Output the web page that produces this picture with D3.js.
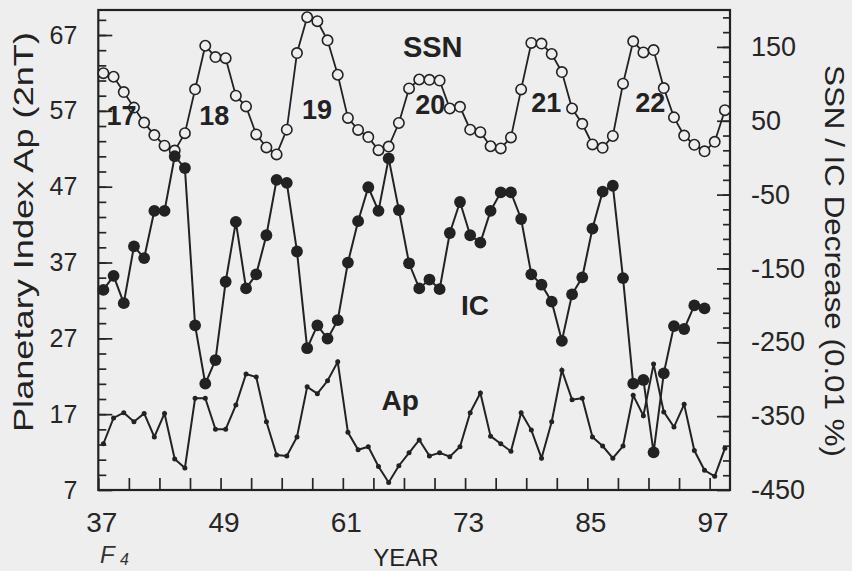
<!DOCTYPE html>
<html>
<head>
<meta charset="utf-8">
<script src="https://cdn.jsdelivr.net/npm/d3@7"></script>
<style>
  html, body { margin: 0; padding: 0; background: #eeeeee; }
  svg { display: block; font-family: 'Liberation Sans', Arial, Helvetica, sans-serif; }
  .axis text { fill: #262626; }
  .axis line { stroke: #262626; stroke-width: 1.7; }
</style>
</head>
<body>
<svg id="chart" width="852" height="571"></svg>
<script>
// Two-digit years, annual means plotted at mid-year
const years = [37, 38, 39, 40, 41, 42, 43, 44, 45, 46, 47, 48, 49, 50, 51, 52,
  53, 54, 55, 56, 57, 58, 59, 60, 61, 62, 63, 64, 65, 66, 67, 68, 69, 70, 71,
  72, 73, 74, 75, 76, 77, 78, 79, 80, 81, 82, 83, 84, 85, 86, 87, 88, 89, 90,
  91, 92, 93, 94, 95, 96, 97, 98];

// Sunspot number (right axis)
const ssnValues = [114.4, 109.6, 88.8, 67.8, 47.5, 30.6, 16.3, 9.6, 33.2, 92.6,
  151.6, 136.3, 134.7, 83.9, 69.4, 31.5, 13.9, 4.4, 38.0, 141.7, 190.2, 184.8,
  159.0, 112.3, 53.9, 37.6, 27.9, 10.2, 15.1, 47.0, 93.8, 105.9, 105.5, 104.5,
  66.6, 68.9, 38.0, 34.5, 15.5, 12.6, 27.5, 92.5, 155.4, 154.6, 140.4, 115.9,
  66.6, 45.9, 17.9, 13.4, 29.4, 100.2, 157.6, 142.6, 145.7, 94.3, 54.6, 29.9,
  17.5, 8.6, 21.5, 64.3];

// IC decrease, 0.01 % (right axis), 1937-1996
const icValues = [-179, -160, -197, -120, -136, -72, -72, 2, -14, -227, -306,
  -274, -168, -87, -177, -158, -105, -30, -34, -127, -258, -227, -245, -220,
  -142, -86, -40, -72, -1, -71, -143, -177, -165, -178, -102, -60, -105, -115,
  -72, -47, -47, -83, -158, -172, -195, -248, -185, -162, -96, -46, -38, -163,
  -306, -301, -399, -292, -228, -232, -200, -204];

// Planetary index Ap (left axis)
const apValues = [13.1, 16.5, 17.2, 16.0, 17.1, 14.0, 17.1, 11.1, 9.9, 19.1,
  19.1, 15.0, 15.0, 18.2, 22.3, 21.9, 16.0, 11.6, 11.5, 14.0, 20.6, 19.7, 21.4,
  23.9, 14.6, 12.3, 12.7, 10.1, 8.0, 10.2, 11.9, 13.6, 11.5, 11.9, 11.4, 12.7,
  17.2, 19.8, 14.1, 13.1, 12.1, 17.2, 14.9, 11.2, 16.0, 22.8, 18.9, 19.1, 14.0,
  12.8, 11.2, 12.8, 19.5, 16.8, 23.6, 17.3, 15.3, 18.3, 12.2, 9.6, 8.8, 12.5];

// Tick labels
const yearLabels = [37, 49, 61, 73, 85, 97];
const apLabels = [7, 17, 27, 37, 47, 57, 67];
const rightLabels = [-450, -350, -250, -150, -50, 50, 150];

// Solar cycle numbers and where they sit
const cycleNames = ['17', '18', '19', '20', '21', '22'];
const cycleYears = [37.8, 46.9, 57.0, 68.1, 79.5, 89.7];
const cycleSsn = [72, 72, 79, 86, 89, 89];

const ink = '#222222';
const paper = '#eeeeee';

class SolarChart {
  constructor(_config) {
    this.config = {
      parentElementSelector: _config.parentElementSelector,
      width: 852,
      height: 571,
      plot: { left: 98.3, right: 730, top: 10, bottom: 490 },
    };
    this.initVis();
  }

  initVis() {
    const p = this.config.plot;
    this.svg = d3.select(this.config.parentElementSelector);

    this.svg.append('rect')
      .attr('width', this.config.width)
      .attr('height', this.config.height)
      .attr('fill', paper);

    // Initialize scales
    this.xScale = d3.scaleLinear().domain([37, 99]).range([p.left, p.right]);
    this.yLeft = d3.scaleLinear().domain([7, 70.3]).range([p.bottom, p.top]);
    this.yRight = d3.scaleLinear().domain([-450, 200]).range([p.bottom, p.top]);

    // plain hyphen minus like the original print
    const plain = (d) => String(d);

    // Bottom axis: ticks every 3 years, pointing inward
    const xAxis = d3.axisBottom(this.xScale)
      .tickValues(d3.range(37, 98, 3))
      .tickSizeInner(-12)
      .tickSizeOuter(0)
      .tickPadding(22)
      .tickFormat((d) => (yearLabels.includes(d) ? d : ''));
    this.svg.append('g')
      .attr('class', 'axis x-axis')
      .attr('transform', `translate(0,${p.bottom})`)
      .call(xAxis)
      .call((g) => g.select('.domain').remove())
      .call((g) => g.selectAll('text').attr('font-size', 28).attr('dx', 3));

    // Left axis: minor ticks every 2, major every 10
    this.svg.append('g')
      .attr('class', 'axis y-left-minor')
      .attr('transform', `translate(${p.left},0)`)
      .call(d3.axisLeft(this.yLeft).tickValues(d3.range(9, 70, 2))
        .tickSizeInner(-8).tickSizeOuter(0).tickFormat(''))
      .call((g) => g.select('.domain').remove());
    this.svg.append('g')
      .attr('class', 'axis y-left')
      .attr('transform', `translate(${p.left},0)`)
      .call(d3.axisLeft(this.yLeft).tickValues(apLabels)
        .tickSizeInner(-14).tickSizeOuter(0).tickPadding(21).tickFormat(plain))
      .call((g) => g.select('.domain').remove())
      .call((g) => g.selectAll('text').attr('font-size', 25));

    // Right axis: minor ticks every 20, major every 100
    this.svg.append('g')
      .attr('class', 'axis y-right-minor')
      .attr('transform', `translate(${p.right},0)`)
      .call(d3.axisRight(this.yRight).tickValues(d3.range(-430, 200, 20))
        .tickSizeInner(-7).tickSizeOuter(0).tickFormat(''))
      .call((g) => g.select('.domain').remove());
    this.svg.append('g')
      .attr('class', 'axis y-right')
      .attr('transform', `translate(${p.right},0)`)
      .call(d3.axisRight(this.yRight).tickValues(rightLabels)
        .tickSizeInner(-13).tickSizeOuter(0).tickPadding(21).tickFormat(plain))
      .call((g) => g.select('.domain').remove())
      .call((g) => g.selectAll('text').attr('font-size', 27));

    // Plot frame
    this.svg.append('rect')
      .attr('x', p.left)
      .attr('y', p.top)
      .attr('width', p.right - p.left)
      .attr('height', p.bottom - p.top)
      .attr('fill', 'none')
      .attr('stroke', ink)
      .attr('stroke-width', 2.2);

    // Axis titles
    this.svg.append('text')
      .attr('transform', 'translate(33,232) rotate(-90)')
      .attr('text-anchor', 'middle')
      .attr('font-size', 27)
      .attr('textLength', 400)
      .attr('lengthAdjust', 'spacingAndGlyphs')
      .attr('fill', ink)
      .text('Planetary Index Ap (2nT)');

    this.svg.append('text')
      .attr('transform', 'translate(825,261) rotate(90)')
      .attr('text-anchor', 'middle')
      .attr('font-size', 27)
      .attr('textLength', 392)
      .attr('lengthAdjust', 'spacingAndGlyphs')
      .attr('fill', ink)
      .text('SSN / IC Decrease (0.01 %)');

    this.svg.append('text')
      .attr('x', 406)
      .attr('y', 566)
      .attr('text-anchor', 'middle')
      .attr('font-size', 24)
      .attr('fill', ink)
      .text('YEAR');

    // handwritten figure mark in the bottom-left corner
    this.svg.append('text')
      .attr('x', 100)
      .attr('y', 563)
      .attr('font-size', 24)
      .attr('font-style', 'italic')
      .attr('fill', '#333')
      .text('F');
    this.svg.append('text')
      .attr('x', 120)
      .attr('y', 565)
      .attr('font-size', 16)
      .attr('font-style', 'italic')
      .attr('fill', '#333')
      .text('4');

    this.chart = this.svg.append('g').attr('class', 'data-group');
    this.updateVis();
  }

  updateVis() {
    const x = (yy) => this.xScale(yy + 0.5);

    const ssnData = ssnValues.map((v, i) => ({ year: years[i], value: v }));
    const icData = icValues.map((v, i) => ({ year: years[i], value: v }));
    const apData = apValues.map((v, i) => ({ year: years[i], value: v }));

    const rightLine = d3.line().x((d) => x(d.year)).y((d) => this.yRight(d.value));
    const leftLine = d3.line().x((d) => x(d.year)).y((d) => this.yLeft(d.value));

    // SSN: open circles
    this.chart.append('path')
      .datum(ssnData)
      .attr('d', rightLine)
      .attr('fill', 'none')
      .attr('stroke', ink)
      .attr('stroke-width', 1.8);
    this.chart.selectAll('.ssn-point')
      .data(ssnData)
      .join('circle')
      .attr('class', 'ssn-point')
      .attr('cx', (d) => x(d.year))
      .attr('cy', (d) => this.yRight(d.value))
      .attr('r', 5.2)
      .attr('fill', paper)
      .attr('stroke', ink)
      .attr('stroke-width', 1.6);

    // IC: large filled dots
    this.chart.append('path')
      .datum(icData)
      .attr('d', rightLine)
      .attr('fill', 'none')
      .attr('stroke', ink)
      .attr('stroke-width', 2);
    this.chart.selectAll('.ic-point')
      .data(icData)
      .join('circle')
      .attr('class', 'ic-point')
      .attr('cx', (d) => x(d.year))
      .attr('cy', (d) => this.yRight(d.value))
      .attr('r', 5.9)
      .attr('fill', ink);

    // Ap: small dots
    this.chart.append('path')
      .datum(apData)
      .attr('d', leftLine)
      .attr('fill', 'none')
      .attr('stroke', ink)
      .attr('stroke-width', 2);
    this.chart.selectAll('.ap-point')
      .data(apData)
      .join('circle')
      .attr('class', 'ap-point')
      .attr('cx', (d) => x(d.year))
      .attr('cy', (d) => this.yLeft(d.value))
      .attr('r', 2.5)
      .attr('fill', ink);

    // Series and cycle labels
    const labels = this.svg.append('g')
      .attr('font-weight', 'bold')
      .attr('fill', ink);
    labels.append('text')
      .attr('x', this.xScale(66.9))
      .attr('y', this.yRight(137))
      .attr('font-size', 29)
      .text('SSN');
    labels.append('text')
      .attr('x', this.xScale(72.6))
      .attr('y', this.yRight(-213))
      .attr('font-size', 28)
      .text('IC');
    labels.append('text')
      .attr('x', this.xScale(64.8))
      .attr('y', this.yLeft(17.5))
      .attr('font-size', 28)
      .text('Ap');
    labels.selectAll('.cycle')
      .data(cycleNames)
      .join('text')
      .attr('class', 'cycle')
      .attr('x', (d, i) => this.xScale(cycleYears[i]))
      .attr('y', (d, i) => this.yRight(cycleSsn[i]) + 20)
      .attr('font-size', 27)
      .text((d) => d);
  }
}

const chart = new SolarChart({ parentElementSelector: '#chart' });
</script>
</body>
</html>
